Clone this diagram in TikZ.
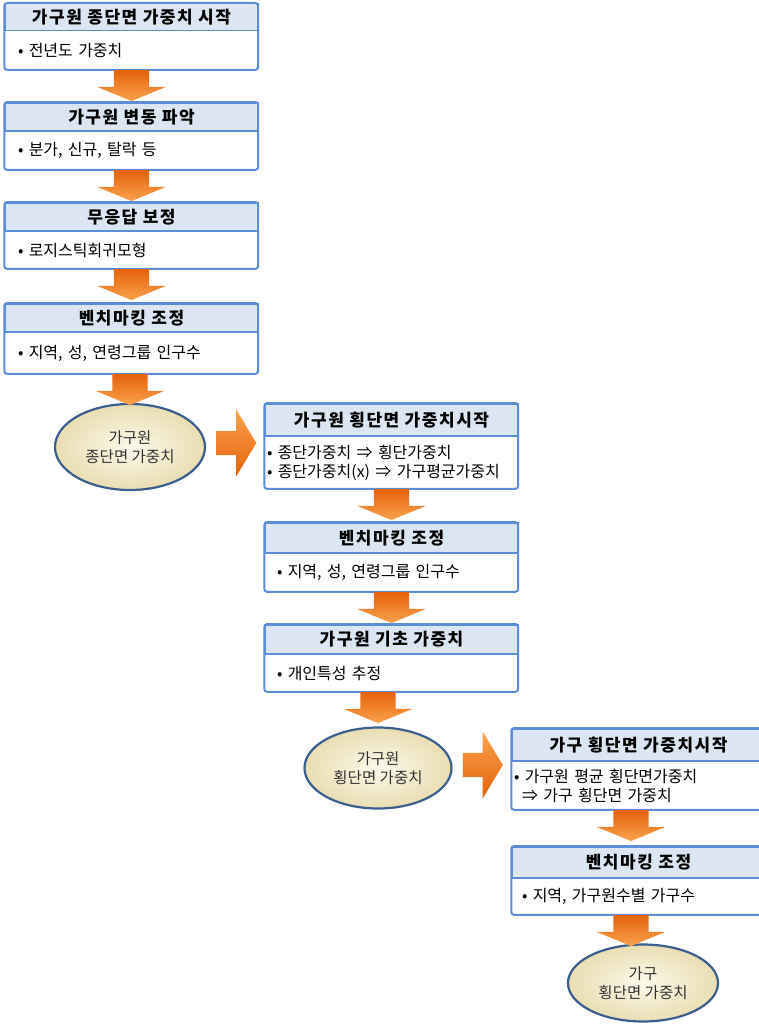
\documentclass[tikz,border=0pt]{standalone}
\usepackage{fontspec}
\setmainfont{Noto Sans CJK KR}
\usetikzlibrary{positioning,shapes.geometric,shapes.arrows}

\definecolor{hdrfill}{HTML}{DCE6F2}
\definecolor{boxline}{HTML}{5B8ED6}
\definecolor{ovalline}{HTML}{3A5E8E}
\definecolor{ovalin}{HTML}{FCF9EA}
\definecolor{ovalout}{HTML}{E9DDB2}
\definecolor{arrlight}{HTML}{FBA34E}
\definecolor{arrdark}{HTML}{E4620A}

\begin{document}
\begin{tikzpicture}[x=1pt,y=-1pt,
    hdr/.style={draw=boxline,line width=1.5pt,fill=hdrfill,anchor=north,
      minimum width=253pt,minimum height=#1,inner sep=0pt,
      font=\bfseries\fontsize{17}{19}\selectfont\addfontfeature{LetterSpace=9}},
    hdr/.default=28pt,
    body/.style={text width=227pt,inner xsep=13pt,inner ysep=0pt,
      minimum height=#1,align=left,font=\fontsize{16}{18.5}\selectfont},
    body/.default=38pt,
    frame/.style={draw=boxline,line width=2pt,rounded corners=3pt},
    oval/.style={ellipse,draw=ovalline,line width=2.2pt,inner color=ovalin,
      outer color=ovalout,minimum width=150pt,minimum height=86pt,
      align=center,text=black!80,font=\fontsize{15.5}{19}\selectfont},
    dnarrow/.style={single arrow,rotate=-90,inner xsep=0pt,inner ysep=17.5pt,
      minimum height=31pt,single arrow head extend=16.5pt,
      single arrow tip angle=135,top color=arrdark,bottom color=arrlight},
    rtarrow/.style={single arrow,inner xsep=0pt,inner ysep=12pt,
      minimum height=40pt,single arrow head extend=21.5pt,
      single arrow tip angle=118,top color=arrlight,bottom color=arrdark}]

  \useasboundingbox (0,0) rectangle (759,1025);

  % first column: longitudinal weights
  \node[hdr=27pt] (h1) at (131.5,3) {가구원 종단면 가중치 시작};
  \node[body] (b1) [below=0pt of h1] {• 전년도 가중치};
  \draw[frame] (h1.north west) rectangle (b1.south east);

  \node[hdr] (h2) at (131.5,102) {가구원 변동 파악};
  \node[body] (b2) [below=0pt of h2] {• 분가, 신규, 탈락 등};
  \draw[frame] (h2.north west) rectangle (b2.south east);

  \node[hdr] (h3) at (131.5,202) {무응답 보정};
  \node[body=37pt] (b3) [below=0pt of h3] {• 로지스틱회귀모형};
  \draw[frame] (h3.north west) rectangle (b3.south east);

  \node[hdr] (h4) at (131.5,303) {벤치마킹 조정};
  \node[body=41pt] (b4) [below=0pt of h4] {• 지역, 성, 연령그룹 인구수};
  \draw[frame] (h4.north west) rectangle (b4.south east);

  \node[oval] (e1) at (130,447) {가구원\\종단면 가중치};

  \node[dnarrow,anchor=tail] (a1) at (b1.south) {};
  \node[dnarrow,anchor=tail] (a2) at (b2.south) {};
  \node[dnarrow,anchor=tail] (a3) at (b3.south) {};
  \node[dnarrow,anchor=tail] (a4) at (b4.south -| e1) {};

  % second column: cross-sectional weights of members
  \node[hdr=32pt] (h5) at (391.5,403) {가구원 횡단면 가중치시작};
  \node[body=52pt,text width=249pt,inner xsep=2pt] (b5) [below=0pt of h5]
    {• 종단가중치 ⇒ 횡단가중치\\• 종단가중치(x) ⇒ 가구평균가중치};
  \draw[frame] (h5.north west) rectangle (b5.south east);

  \node[hdr=30pt] (h6) at (391.5,522) {벤치마킹 조정};
  \node[body,inner xsep=12pt,text width=229pt] (b6) [below=0pt of h6]
    {• 지역, 성, 연령그룹 인구수};
  \draw[frame] (h6.north west) rectangle (b6.south east);

  \node[hdr=29pt] (h7) at (391.5,624) {가구원 기초 가중치};
  \node[body=37pt,inner xsep=12pt,text width=229pt] (b7) [below=0pt of h7]
    {• 개인특성 추정};
  \draw[frame] (h7.north west) rectangle (b7.south east);

  \node[oval,minimum width=147pt,minimum height=81pt] (e2) at (378,768)
    {가구원\\횡단면 가중치};

  \node[rtarrow,anchor=tail] (r1) at ([xshift=10pt,yshift=4pt]e1.east) {};
  \node[dnarrow,anchor=tail] (a5) at (b5.south) {};
  \node[dnarrow,anchor=tail] (a6) at (b6.south) {};
  \node[dnarrow,anchor=tail] (a7) at (b7.south -| e2) {};

  % third column: household weights
  \node[hdr=32pt] (h8) at (638.5,728) {가구 횡단면 가중치시작};
  \node[body=48pt,text width=249pt,inner xsep=2pt] (b8) [below=0pt of h8]
    {• 가구원 평균 횡단면가중치\\\hspace*{8pt}⇒ 가구 횡단면 가중치};
  \draw[frame] (h8.north west) rectangle (b8.south east);

  \node[hdr=31pt] (h9) at (638.5,846) {벤치마킹 조정};
  \node[body=36pt,inner xsep=10pt,text width=233pt] (b9) [below=0pt of h9]
    {• 지역, 가구원수별 가구수};
  \draw[frame] (h9.north west) rectangle (b9.south east);

  \node[oval,minimum height=77pt] (e3) at (643,983) {가구\\횡단면 가중치};

  \node[rtarrow,anchor=tail] (r2) at ([xshift=10pt,yshift=3pt]e2.east) {};
  \node[dnarrow,anchor=tail] (a8) at (b8.south -| 631,0) {};
  \node[dnarrow,anchor=tail] (a9) at (b9.south -| 631,0) {};
\end{tikzpicture}
\end{document}
